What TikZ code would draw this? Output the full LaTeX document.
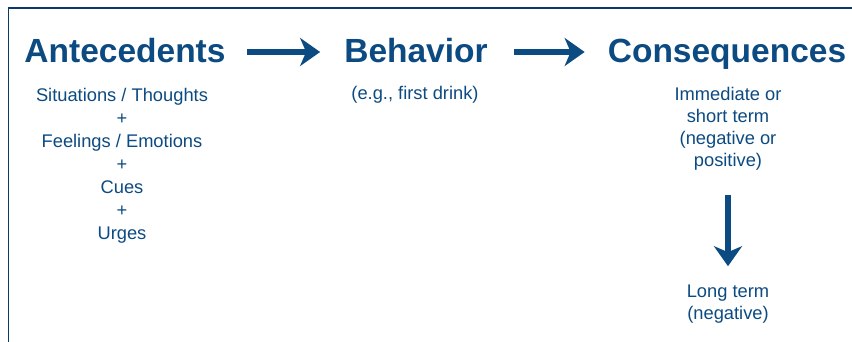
\documentclass[tikz,border=0pt]{standalone}
\usepackage{fontspec}
\setmainfont{Liberation Sans}
\usetikzlibrary{arrows.meta}
\definecolor{abcblue}{RGB}{12,74,130}

\begin{document}
\begin{tikzpicture}[
  x = 1pt,
  y = -1pt,
  heading/.style = {
    anchor = base,
    inner sep = 0pt,
    text = abcblue,
    font = \fontsize{33.5}{40}\selectfont\bfseries
  },
  detail/.style = {
    anchor = base,
    inner sep = 0pt,
    align = center,
    text = abcblue,
    font = \fontsize{18.3}{23}\selectfont
  },
  flow/.style = {
    -{Stealth[length=20pt, width=28pt, inset=6pt]},
    abcblue,
    line width = 5.5pt
  },
  frame/.style = {
    draw = abcblue!80!black,
    line width = 1.4pt
  },
  ]
  \useasboundingbox (0, 0) rectangle (852, 342);

  % Frame, cut off at the right and bottom.
  \draw[frame] (852, 8.2) -- (8.2, 8.2) -- (8.2, 342);

  % Headings.
  \node[heading] (ante) at (125, 63) {Antecedents};
  \node[heading] (beh) at (416, 63) {Behavior};
  \node[heading] (cons) at (727, 63) {Consequences};

  % Details under each heading (placed at the base of their last line).
  \node[detail] (ante-list) at (122, 239)
    {Situations / Thoughts\\+\\Feelings / Emotions\\+\\Cues\\+\\Urges};
  \node[detail] (beh-ex) at (415, 100) {(e.g., first drink)};
  \node[detail, font=\fontsize{18.3}{22}\selectfont] (short) at (728, 167)
    {Immediate or\\short term\\(negative or\\positive)};
  \node[detail, font=\fontsize{18.3}{22}\selectfont] (long) at (728, 319)
    {Long term\\(negative)};

  % Arrows between headings.
  \draw[flow, shorten <=21pt, shorten >=24pt]
    ([yshift=11pt]ante.base east) -- ([yshift=11pt]beh.base west);
  \draw[flow, shorten <=26pt, shorten >=23pt]
    ([yshift=11pt]beh.base east) -- ([yshift=11pt]cons.base west);
  % Short term leads to long term.
  \draw[flow, shorten <=24pt, shorten >=18pt] (short.south) -- (long.north);
\end{tikzpicture}
\end{document}
